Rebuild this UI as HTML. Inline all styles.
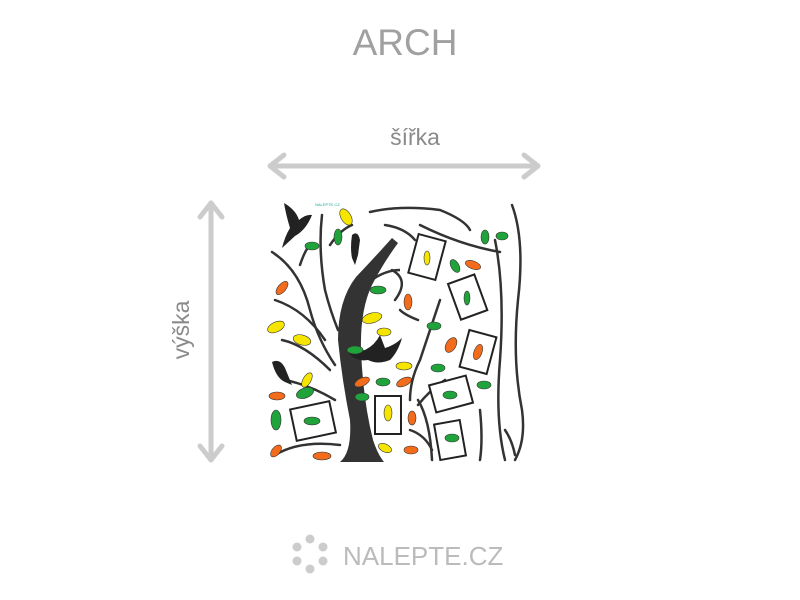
<!DOCTYPE html>
<html><head><meta charset="utf-8"><style>
html,body{margin:0;padding:0;background:#fff;width:800px;height:600px;overflow:hidden}
</style></head><body>
<svg width="800" height="600" viewBox="0 0 800 600" xmlns="http://www.w3.org/2000/svg">
<text x="405" y="55" text-anchor="middle" font-family="Liberation Sans, sans-serif" font-size="37" fill="#a0a0a0">ARCH</text>
<text x="415" y="145" text-anchor="middle" font-family="Liberation Sans, sans-serif" font-size="23" fill="#8a8a8a">šířka</text>
<text transform="translate(189,330) rotate(-90)" text-anchor="middle" font-family="Liberation Sans, sans-serif" font-size="23" fill="#8a8a8a">výška</text>
<g stroke="#ccc" stroke-width="5" fill="none" stroke-linecap="round" stroke-linejoin="round">
<line x1="272" y1="166" x2="536" y2="166"/>
<polyline points="284,155 270,166 284,177"/><polyline points="524,155 538,166 524,177"/>
<line x1="211" y1="203" x2="211" y2="460"/>
<polyline points="200,217 211,203 222,217"/><polyline points="200,446 211,460 222,446"/>
</g>
<g stroke="#333" stroke-width="2.5" fill="none" stroke-linecap="round">
<path d="M272,252 Q300,270 310,310 Q318,340 335,365"/>
<path d="M300,265 Q305,250 310,245"/>
<path d="M275,300 Q305,310 325,340"/>
<path d="M282,340 Q305,345 330,370"/>
<path d="M285,380 Q310,385 335,400"/>
<path d="M275,455 Q300,440 340,445"/>
<path d="M322,215 Q318,250 325,290 Q330,310 338,330"/>
<path d="M330,245 Q340,230 352,225"/>
<path d="M392,270 Q410,280 395,300"/>
<path d="M370,212 Q400,205 440,210 Q465,220 470,230"/>
<path d="M385,225 Q405,228 415,240"/>
<path d="M420,225 Q460,245 500,252"/>
<path d="M440,300 Q430,330 420,360 Q410,380 410,400"/>
<path d="M418,320 Q405,315 400,310"/>
<path d="M445,380 Q430,390 418,405"/>
<path d="M418,400 Q430,420 432,460"/>
<path d="M410,430 Q425,435 432,450"/>
<path d="M495,240 Q505,290 500,360 Q495,420 505,460"/>
<path d="M512,205 Q525,240 518,300 Q512,360 522,410 Q526,440 515,460"/>
<path d="M505,430 Q512,440 515,455"/>
<path d="M480,410 Q483,440 480,460"/>
</g>
<path d="M340,462 Q352,452 350,420 Q342,380 338,340 Q338,300 356,277 Q375,257 392,238 L398,243 Q382,265 372,285 Q360,310 361,350 Q363,400 373,440 Q378,455 384,462 Z" fill="#333"/>
<path d="M360,290 Q380,270 400,270" stroke="#333" stroke-width="2.5" fill="none"/>
<path d="M284,203 Q296,210 299,220 Q306,214 312,215 Q306,230 295,236 L282,248 Q285,236 290,228 Q286,215 284,203Z" fill="#222"/>
<path d="M352,235 Q358,230 360,240 L358,255 L355,265 L352,258 Q350,248 352,235Z" fill="#222"/>
<path d="M348,352 L365,350 Q375,345 380,335 L385,348 Q395,345 402,338 Q398,352 390,360 Q378,365 368,360 Q355,362 348,352Z" fill="#222"/>
<path d="M272,362 Q280,358 285,368 L292,385 L285,382 Q276,378 272,362Z" fill="#222"/>
<g fill="#fff" stroke="#222" stroke-width="2">
<rect x="-14" y="-20" width="28" height="40" transform="translate(427,257) rotate(15)"/>
<rect x="-14" y="-20" width="28" height="38" transform="translate(468,298) rotate(-20)"/>
<rect x="-14" y="-19" width="28" height="38" transform="translate(478,352) rotate(15)"/>
<rect x="-19" y="-14" width="38" height="28" transform="translate(451,394) rotate(-15)"/>
<rect x="-13" y="-18" width="26" height="36" transform="translate(450,440) rotate(-10)"/>
<rect x="-13" y="-19" width="26" height="38" transform="translate(388,415)"/>
<rect x="-20" y="-16" width="40" height="32" transform="translate(313,421) rotate(-12)"/>
</g>
<g stroke="#333" stroke-width="0.6">
<ellipse cx="346" cy="217" rx="5" ry="9" fill="#f5e500" transform="rotate(-30 346 217)"/>
<ellipse cx="338" cy="237" rx="4" ry="8" fill="#1fa33a"/>
<ellipse cx="312" cy="246" rx="7" ry="4" fill="#1fa33a"/>
<ellipse cx="282" cy="288" rx="4" ry="8" fill="#f26c1c" transform="rotate(40 282 288)"/>
<ellipse cx="276" cy="327" rx="9" ry="5" fill="#f5e500" transform="rotate(-25 276 327)"/>
<ellipse cx="302" cy="340" rx="9" ry="5" fill="#f5e500" transform="rotate(15 302 340)"/>
<ellipse cx="372" cy="318" rx="10" ry="5" fill="#f5e500" transform="rotate(-15 372 318)"/>
<ellipse cx="384" cy="332" rx="7" ry="4" fill="#f5e500"/>
<ellipse cx="378" cy="290" rx="8" ry="4" fill="#1fa33a"/>
<ellipse cx="408" cy="302" rx="4" ry="8" fill="#f26c1c"/>
<ellipse cx="434" cy="326" rx="7" ry="4" fill="#1fa33a"/>
<ellipse cx="451" cy="345" rx="5" ry="8" fill="#f26c1c" transform="rotate(30 451 345)"/>
<ellipse cx="438" cy="368" rx="7" ry="4" fill="#1fa33a"/>
<ellipse cx="355" cy="350" rx="8" ry="4" fill="#1fa33a"/>
<ellipse cx="404" cy="366" rx="8" ry="4" fill="#f5e500"/>
<ellipse cx="362" cy="382" rx="8" ry="4" fill="#f26c1c" transform="rotate(-25 362 382)"/>
<ellipse cx="383" cy="382" rx="7" ry="4" fill="#1fa33a"/>
<ellipse cx="404" cy="382" rx="8" ry="4" fill="#f26c1c" transform="rotate(-25 404 382)"/>
<ellipse cx="362" cy="397" rx="7" ry="4" fill="#1fa33a"/>
<ellipse cx="412" cy="418" rx="4" ry="7" fill="#f26c1c"/>
<ellipse cx="388" cy="413" rx="4" ry="8" fill="#f5e500"/>
<ellipse cx="385" cy="448" rx="7" ry="4" fill="#f5e500" transform="rotate(25 385 448)"/>
<ellipse cx="411" cy="450" rx="7" ry="4" fill="#f26c1c"/>
<ellipse cx="322" cy="456" rx="9" ry="4" fill="#f26c1c"/>
<ellipse cx="276" cy="451" rx="4" ry="7" fill="#f26c1c" transform="rotate(40 276 451)"/>
<ellipse cx="276" cy="420" rx="5" ry="10" fill="#1fa33a"/>
<ellipse cx="277" cy="396" rx="8" ry="4" fill="#f26c1c"/>
<ellipse cx="305" cy="393" rx="9" ry="5" fill="#1fa33a" transform="rotate(-20 305 393)"/>
<ellipse cx="307" cy="380" rx="4" ry="8" fill="#f5e500" transform="rotate(30 307 380)"/>
<ellipse cx="312" cy="421" rx="8" ry="4" fill="#1fa33a"/>
<ellipse cx="485" cy="237" rx="4" ry="7" fill="#1fa33a"/>
<ellipse cx="502" cy="236" rx="6" ry="4" fill="#1fa33a"/>
<ellipse cx="455" cy="266" rx="4" ry="7" fill="#1fa33a" transform="rotate(-30 455 266)"/>
<ellipse cx="473" cy="265" rx="8" ry="4" fill="#f26c1c" transform="rotate(20 473 265)"/>
<ellipse cx="427" cy="258" rx="3" ry="7" fill="#f5e500"/>
<ellipse cx="467" cy="298" rx="3" ry="7" fill="#1fa33a"/>
<ellipse cx="478" cy="352" rx="4" ry="8" fill="#f26c1c" transform="rotate(20 478 352)"/>
<ellipse cx="450" cy="395" rx="7" ry="4" fill="#1fa33a"/>
<ellipse cx="452" cy="438" rx="7" ry="4" fill="#1fa33a"/>
<ellipse cx="484" cy="385" rx="7" ry="4" fill="#1fa33a"/>
</g>
<text x="315" y="206" font-family="Liberation Sans, sans-serif" font-size="4" fill="#2a9">NALEPTE.CZ</text>
<g fill="#ccc">
<circle cx="310" cy="539" r="4.5"/><circle cx="323" cy="547" r="4.5"/><circle cx="323" cy="561" r="4.5"/>
<circle cx="310" cy="569" r="4.5"/><circle cx="297" cy="561" r="4.5"/><circle cx="297" cy="547" r="4.5"/>
</g>
<text x="343" y="565" font-family="Liberation Sans, sans-serif" font-size="26" fill="#bbb">NALEPTE.CZ</text>
</svg>
</body></html>
